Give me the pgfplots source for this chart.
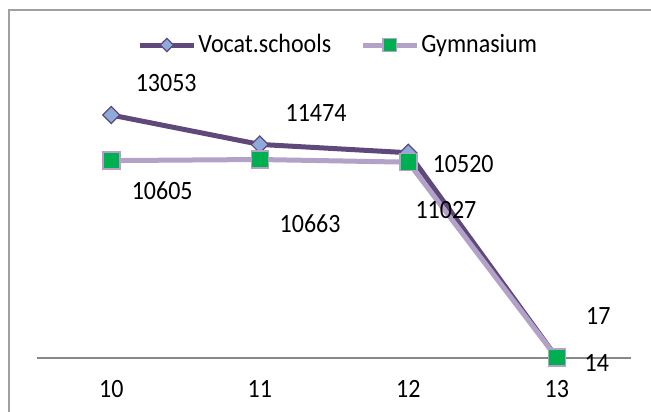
\documentclass[border=0pt]{standalone}
\usepackage{fontspec}
\setmainfont{Carlito}
\usepackage{pgfplots}
\pgfplotsset{compat=1.18}
\definecolor{vocline}{HTML}{5F497A}
\definecolor{vocfill}{HTML}{8EAADB}
\definecolor{gymline}{HTML}{B3A2C7}
\definecolor{gymfill}{HTML}{00B050}
\definecolor{framecol}{HTML}{A0A0A0}
\definecolor{axiscol}{HTML}{888888}
\newcommand{\lf}{\fontsize{24}{28}\selectfont}
\newcommand{\st}[1]{\scalebox{1}[1.1]{#1}}
\begin{document}
\lf
\begin{tikzpicture}[x=1pt,y=1pt]
\useasboundingbox (0,0) rectangle (651,412);
\draw[framecol, line width=1.5pt] (9,-3) -- (9,402) -- (654,402);
\begin{axis}[
  at={(37pt,54pt)}, anchor=south west, scale only axis,
  width=594pt, height=260.6pt,
  xmin=9.5, xmax=13.5, ymin=0, ymax=14000,
  axis y line=none, axis x line=bottom,
  x axis line style={-, color=axiscol, line width=1.3pt},
  xtick={10,11,12,13}, xticklabels={\st{10},\st{11},\st{12},\st{13}},
  major tick length=0pt,
  /pgf/number format/assume math mode=true,
  xticklabel style={anchor=base, yshift=-39.5pt, font=\lf},
  clip=false,
  legend columns=2,
  legend style={at={(axis description cs:0.507,1.201)}, anchor=center,
    draw=none, fill=none, font=\lf, nodes={inner xsep=2pt},
    /tikz/every even column/.append style={column sep=27pt}},
  legend image code/.code={\draw[mark repeat=2,mark phase=2,#1, every mark/.append style={scale=0.78}] plot coordinates {(0pt,0pt) (27pt,0pt) (54pt,0pt)};},
]
\addplot[vocline, line width=5pt, mark=square*, mark size=6pt,
  mark options={rotate=45, fill=vocfill, draw=vocline, line width=1.2pt}]
  coordinates {(10,13053) (11,11474) (12,11027) (13,17)};
\addlegendentry{\st{Vocat.schools}}
\addplot[gymline, line width=5pt, mark=square*, mark size=8.5pt,
  mark options={fill=gymfill, draw=gymline, line width=1.5pt}]
  coordinates {(10,10605) (11,10663) (12,10520) (13,14)};
\addlegendentry{\st{Gymnasium}}
\node[font=\lf] at (axis cs:10.37,14798) {\st{13053}};
\node[font=\lf] at (axis cs:11.379,13160) {\st{11474}};
\node[font=\lf] at (axis cs:12.254,7950) {\st{11027}};
\node[font=\lf] at (axis cs:13.28,2256) {\st{17}};
\node[font=\lf] at (axis cs:10.343,8970) {\st{10605}};
\node[font=\lf] at (axis cs:11.339,7198) {\st{10663}};
\node[font=\lf] at (axis cs:12.37,10394) {\st{10520}};
\node[font=\lf] at (axis cs:13.27,-269) {\st{14}};
\end{axis}
\end{tikzpicture}
\end{document}
